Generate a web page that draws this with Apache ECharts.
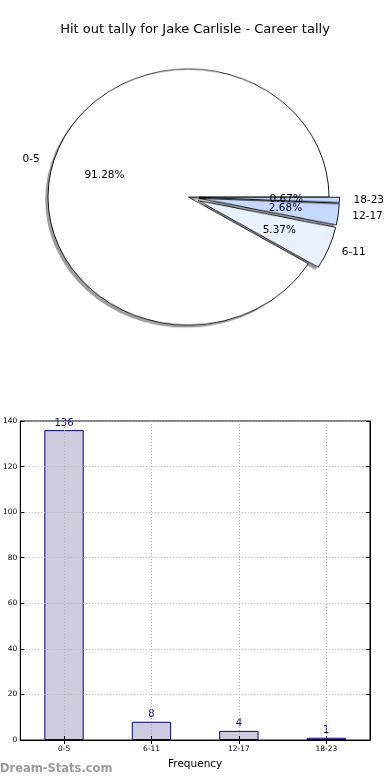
<!DOCTYPE html>
<html><head><meta charset="utf-8">
<script src="https://cdn.jsdelivr.net/npm/echarts@6/dist/echarts.min.js"></script>
<style>
html,body{margin:0;padding:0;background:#fff;}
#wrap{position:relative;width:390px;height:780px;overflow:hidden;}
#pie{position:absolute;left:0;top:0;width:390px;height:780px;transform:scaleY(0.911);transform-origin:188.5px 197px;}
#main{position:absolute;left:0;top:0;width:390px;height:780px;}
</style></head><body>
<div id="wrap"><div id="pie"></div><div id="main"></div></div>
<script>
// ---- data ----
const titleText = 'Hit out tally for Jake Carlisle - Career tally';
const categories = ['0-5', '6-11', '12-17', '18-23'];
const tallies = [136, 8, 4, 1];
const sliceColors = ['#ffffff', '#e9f0fe', '#c5d9fe', '#c5d9fc'];
const exploded = [false, true, true, true];
const yMax = 140;
const yStep = 20;
const xAxisName = 'Frequency';
const watermark = 'Dream-Stats.com';

// ---- layout constants ----
const FONT = 'DejaVu Sans';
const PIE_C = [188.5, 197];
const PIE_R = 140.5;
const EXPLODE = 10.5;
const SQUASH = 0.911;

function pieData(colorFn, useSelect) {
  return categories.map((c, i) => ({
    name: c,
    value: tallies[i],
    selected: useSelect ? exploded[i] : false,
    itemStyle: colorFn(i)
  }));
}

const pieBase = {
  type: 'pie',
  center: PIE_C,
  startAngle: 0,
  clockwise: false,
  selectedMode: 'multiple',
  selectedOffset: EXPLODE,
  avoidLabelOverlap: false,
  minShowLabelAngle: 0,
  silent: true,
  animation: false,
  emphasis: { disabled: true, scale: false }
};

// wedges (drawn in vertically squashed layer -> ellipse)
const pieChart = echarts.init(document.getElementById('pie'), null, { renderer: 'canvas' });
pieChart.setOption({
  animation: false,
  series: [
    Object.assign({}, pieBase, {
      center: [PIE_C[0] - 2.8, PIE_C[1] + 2.85],
      radius: [0, PIE_R],
      label: { show: false }, labelLine: { show: false },
      data: pieData(() => ({ color: '#9e9e9e', borderWidth: 0 }), true)
    }),
    Object.assign({}, pieBase, {
      radius: [0, PIE_R],
      label: { show: false }, labelLine: { show: false },
      data: pieData(i => ({ color: sliceColors[i], borderColor: '#000', borderWidth: 0.9 }), true)
    })
  ]
});

// move labels like the exploded, elliptical wedges
function ellipseLabel(p) {
  const r = p.labelRect;
  const align = p.align || 'center';
  const ax = align === 'left' ? r.x : (align === 'right' ? r.x + r.width : r.x + r.width / 2);
  const ay = r.y + r.height / 2;
  const vx = ax - PIE_C[0], vy = ay - PIE_C[1];
  const d = Math.sqrt(vx * vx + vy * vy) || 1;
  const extra = exploded[p.dataIndex] ? EXPLODE : 0;
  const k = (d + extra) / d;
  return { x: PIE_C[0] + vx * k, y: PIE_C[1] + vy * k * SQUASH, hideOverlap: false };
}

// main chart: title, labels, bar chart
const chart = echarts.init(document.getElementById('main'), null, { renderer: 'canvas' });
chart.setOption({
  animation: false,
  backgroundColor: 'rgba(0,0,0,0)',
  textStyle: { fontFamily: FONT },
  title: {
    text: titleText, left: 'center', top: 23, padding: 0,
    textStyle: { fontFamily: FONT, fontSize: 13, fontWeight: 'normal', color: '#000' }
  },
  graphic: [{
    type: 'text', left: 0, top: 763, silent: true,
    style: { text: watermark, fill: '#9a9a9a', font: 'bold 11.5px "DejaVu Sans"' }
  }],
  grid: { left: 19, right: 20, top: 421, bottom: 40, show: true, borderColor: '#000', borderWidth: 1, backgroundColor: 'rgba(0,0,0,0)' },
  xAxis: [{
    type: 'category', data: categories, position: 'bottom', z: 3,
    axisLine: { show: true, lineStyle: { color: '#000', width: 1 } },
    axisTick: { show: true, inside: true, length: 4, alignWithLabel: true, lineStyle: { color: '#000' } },
    axisLabel: { fontSize: 7.5, color: '#000', margin: 5, fontFamily: FONT },
    name: xAxisName, nameLocation: 'middle', nameGap: 19,
    nameTextStyle: { fontSize: 10.5, color: '#000', fontFamily: FONT },
    splitLine: { show: true, alignWithLabel: true, lineStyle: { color: '#b4b4b4', type: [1, 2], width: 1 } }
  }, {
    type: 'category', data: categories, position: 'top', z: 3,
    axisLine: { show: true, lineStyle: { color: '#000', width: 1 } },
    axisTick: { show: true, inside: true, length: 4, alignWithLabel: true, lineStyle: { color: '#000' } },
    axisLabel: { show: false }, splitLine: { show: false }
  }],
  yAxis: [{
    type: 'value', min: 0, max: yMax, interval: yStep, position: 'left', z: 3,
    axisLine: { show: true, lineStyle: { color: '#000', width: 1 } },
    axisTick: { show: true, inside: true, length: 4, lineStyle: { color: '#000' } },
    axisLabel: { fontSize: 7.5, color: '#000', margin: 3, fontFamily: FONT },
    splitLine: { show: true, lineStyle: { color: '#b4b4b4', type: [1, 2], width: 1 } }
  }, {
    type: 'value', min: 0, max: yMax, interval: yStep, position: 'right', z: 3,
    axisLine: { show: true, lineStyle: { color: '#000', width: 1 } },
    axisTick: { show: true, inside: true, length: 4, lineStyle: { color: '#000' } },
    axisLabel: { show: false }, splitLine: { show: false }
  }],
  series: [
    Object.assign({}, pieBase, {
      radius: [0, PIE_R],
      label: { show: true, position: 'outside', formatter: '{b}', fontSize: 10.5, color: '#000', fontFamily: FONT, distanceToLabelLine: 0 },
      labelLine: { show: false, length: PIE_R * 0.1, length2: 0 },
      labelLayout: ellipseLabel,
      data: pieData(() => ({ color: 'rgba(0,0,0,0)', borderWidth: 0 }), false)
    }),
    Object.assign({}, pieBase, {
      radius: [0, PIE_R * 1.2],
      label: { show: true, position: 'inside', formatter: '{d}%', fontSize: 10.5, color: '#000', fontFamily: FONT },
      labelLine: { show: false },
      labelLayout: ellipseLabel,
      data: pieData(() => ({ color: 'rgba(0,0,0,0)', borderWidth: 0 }), false)
    }),
    {
      type: 'bar', xAxisIndex: 0, yAxisIndex: 0, z: 2,
      data: tallies, barWidth: '45%',
      itemStyle: { color: '#ccccdf', borderColor: '#00008b', borderWidth: 1 },
      label: { show: true, position: 'top', distance: 2, color: '#000080', fontSize: 10, fontFamily: FONT },
      emphasis: { disabled: true }, silent: true
    }
  ]
});
</script>
</body></html>
